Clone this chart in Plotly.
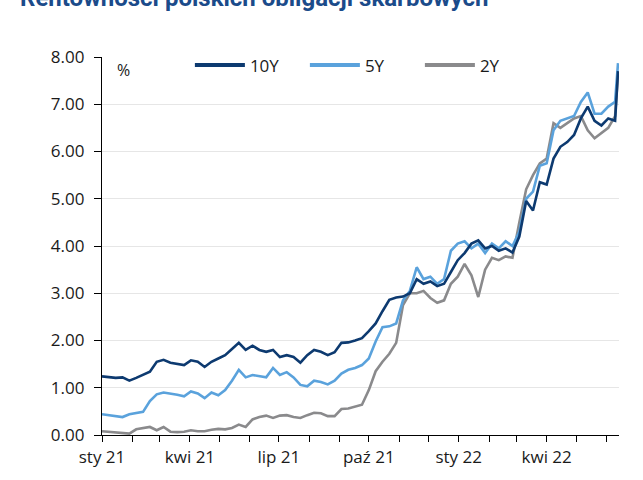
import datetime as dt
import plotly.graph_objects as go

# weekly observations from 2021-01-01, last one on 2022-06-13
start = dt.date(2021, 1, 1)
dates = [start + dt.timedelta(days=7 * i) for i in range(76)] + [dt.date(2022, 6, 13)]

y10 = [1.24, 1.23, 1.21, 1.22, 1.15, 1.21, 1.27, 1.34, 1.55, 1.59,
       1.53, 1.50, 1.48, 1.58, 1.55, 1.44, 1.55, 1.62, 1.69, 1.82,
       1.95, 1.80, 1.89, 1.80, 1.76, 1.80, 1.65, 1.69, 1.65, 1.53,
       1.69, 1.80, 1.76, 1.69, 1.75, 1.95, 1.96, 2.00, 2.05, 2.20,
       2.36, 2.62, 2.86, 2.91, 2.93, 3.00, 3.30, 3.20, 3.25, 3.15,
       3.20, 3.45, 3.70, 3.85, 4.05, 4.12, 3.95, 4.00, 3.90, 3.95,
       3.86, 4.20, 4.95, 4.75, 5.35, 5.30, 5.85, 6.10, 6.20, 6.35,
       6.70, 6.95, 6.65, 6.55, 6.70, 6.65, 7.70]

y5 = [0.44, 0.42, 0.40, 0.38, 0.44, 0.46, 0.49, 0.72, 0.86, 0.90,
      0.88, 0.85, 0.82, 0.92, 0.88, 0.78, 0.90, 0.84, 0.95, 1.15,
      1.38, 1.22, 1.27, 1.24, 1.22, 1.42, 1.27, 1.33, 1.22, 1.06,
      1.03, 1.15, 1.12, 1.07, 1.15, 1.30, 1.38, 1.42, 1.48, 1.62,
      1.98, 2.28, 2.30, 2.36, 2.85, 3.05, 3.55, 3.30, 3.35, 3.20,
      3.30, 3.90, 4.05, 4.10, 3.95, 4.05, 3.85, 4.05, 3.95, 4.10,
      4.00, 4.30, 5.00, 5.15, 5.70, 5.75, 6.45, 6.65, 6.70, 6.75,
      7.05, 7.25, 6.80, 6.80, 6.95, 7.05, 7.87]

y2 = [0.08, 0.07, 0.06, 0.05, 0.03, 0.12, 0.14, 0.17, 0.10, 0.17,
      0.07, 0.06, 0.07, 0.10, 0.08, 0.08, 0.11, 0.13, 0.12, 0.15,
      0.22, 0.17, 0.33, 0.38, 0.41, 0.36, 0.41, 0.42, 0.38, 0.36,
      0.42, 0.47, 0.46, 0.40, 0.40, 0.55, 0.56, 0.60, 0.64, 0.95,
      1.35, 1.55, 1.72, 1.95, 2.75, 3.00, 3.00, 3.05, 2.90, 2.80,
      2.85, 3.20, 3.35, 3.62, 3.38, 2.92, 3.50, 3.75, 3.70, 3.78,
      3.75, 4.50, 5.20, 5.50, 5.75, 5.85, 6.60, 6.50, 6.60, 6.70,
      6.75, 6.45, 6.28, 6.40, 6.50, 6.75, 7.65]

tick_dates = ["2021-01-01", "2021-04-01", "2021-07-01", "2021-10-01", "2022-01-01", "2022-04-01"]
tick_text = ["sty 21", "kwi 21", "lip 21", "paź 21", "sty 22", "kwi 22"]
y_ticks = [0, 1, 2, 3, 4, 5, 6, 7, 8]
y_text = ["%.2f" % v for v in y_ticks]

FONT = "Open Sans"

fig = go.Figure()
fig.add_trace(go.Scatter(x=dates, y=y2, name="2Y", mode="lines",
                         line=dict(color="#8a8a8c", width=2.6), showlegend=False))
fig.add_trace(go.Scatter(x=dates, y=y5, name="5Y", mode="lines",
                         line=dict(color="#5aa2dc", width=2.6), showlegend=False))
fig.add_trace(go.Scatter(x=dates, y=y10, name="10Y", mode="lines",
                         line=dict(color="#0d3a70", width=2.6), showlegend=False))
# legend entries in the reference order
for nm, col in [("10Y", "#0d3a70"), ("5Y", "#5aa2dc"), ("2Y", "#8a8a8c")]:
    fig.add_trace(go.Scatter(x=[None], y=[None], name=nm, mode="lines",
                             line=dict(color=col, width=4)))

fig.update_layout(
    width=643, height=480,
    margin=dict(l=102, r=24, t=57, b=36),
    paper_bgcolor="white", plot_bgcolor="white",
    font=dict(family=FONT, size=17, color="#1a1a1a"),
    legend=dict(orientation="h", x=0.17, y=1.025, xanchor="left", yanchor="top",
                bgcolor="rgba(0,0,0,0)", font=dict(size=17, color="#1a1a1a"),
                itemwidth=50, entrywidth=50, tracegroupgap=0),
    xaxis=dict(type="date", range=["2021-01-01", "2022-06-14"],
               tickvals=tick_dates, ticktext=tick_text,
               ticks="outside", ticklen=6, tickcolor="black",
               showline=True, linecolor="black", linewidth=1.2,
               showgrid=False, zeroline=False,
               minor=dict(ticks="outside", ticklen=6, tickcolor="black",
                          dtick="M1", tick0="2021-01-01", showgrid=False),
               tickfont=dict(size=17)),
    yaxis=dict(range=[0, 8], tickvals=y_ticks, ticktext=y_text,
               ticks="outside", ticklen=7, tickcolor="black",
               showline=True, linecolor="black", linewidth=1.2,
               showgrid=True, gridcolor="#e6e6e6", gridwidth=1,
               zeroline=False, ticklabelstandoff=6,
               tickfont=dict(size=17)),
    annotations=[
        dict(text="%", xref="paper", yref="paper", x=0.025, y=1.0,
             xanchor="left", yanchor="top", showarrow=False,
             font=dict(size=16, color="#1a1a1a")),
        dict(text="<b>Rentowności polskich obligacji skarbowych</b>",
             xref="paper", yref="paper", x=-0.163, y=1.114,
             xanchor="left", yanchor="bottom", showarrow=False,
             font=dict(size=24, color="#1b4b8a", family="Roboto")),
    ],
)

fig.write_html("out.html")
